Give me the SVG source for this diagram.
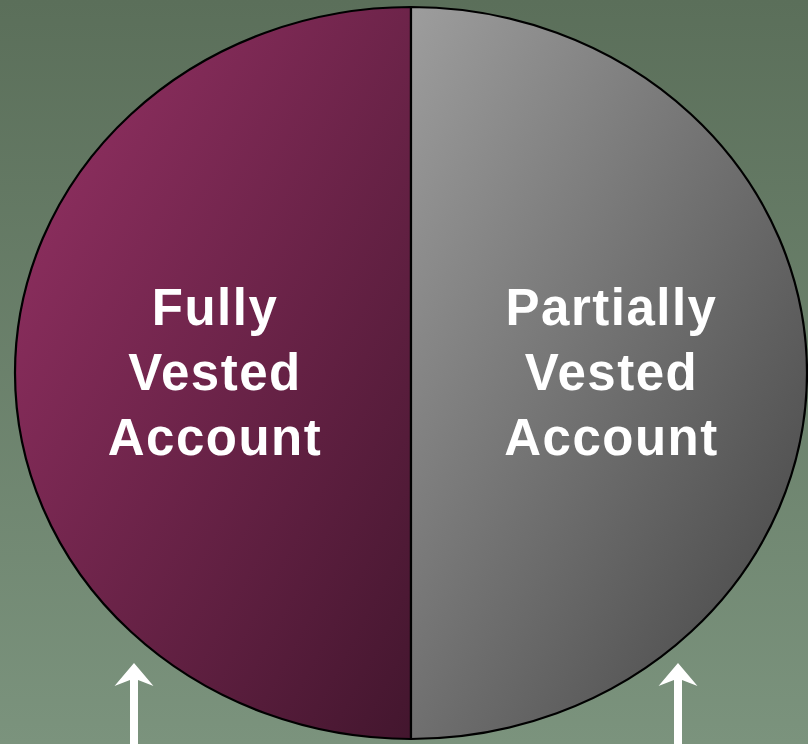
<svg xmlns="http://www.w3.org/2000/svg" width="808" height="744" viewBox="0 0 808 744">
<defs>
<linearGradient id="bg" x1="0" y1="0" x2="0" y2="1">
<stop offset="0" stop-color="#5b6f5a"/>
<stop offset="1" stop-color="#7b937d"/>
</linearGradient>
<linearGradient id="gl" x1="0" y1="0" x2="1" y2="1">
<stop offset="0" stop-color="#983266"/>
<stop offset="1" stop-color="#43162e"/>
</linearGradient>
<linearGradient id="gr" x1="0" y1="0" x2="1" y2="1">
<stop offset="0" stop-color="#9d9d9d"/>
<stop offset="1" stop-color="#424242"/>
</linearGradient>
<style>
.half{stroke:#000;stroke-width:2.2}
.lbl{font-family:"Liberation Sans",Arial,sans-serif;font-weight:bold;font-size:51px;letter-spacing:1.5px;fill:#fff;text-anchor:middle}
.arr{fill:#fff}
</style>
</defs>
<rect width="808" height="744" fill="url(#bg)"/>
<g id="fully">
<path class="half" d="M411,7 A396,366 0 0 0 411,739 Z" fill="url(#gl)"/>
<text class="lbl" x="215" y="325">Fully</text>
<text class="lbl" x="215" y="390">Vested</text>
<text class="lbl" x="215" y="455">Account</text>
</g>
<g id="partially">
<path class="half" d="M411,7 A396,366 0 0 1 411,739 Z" fill="url(#gr)"/>
<text class="lbl" x="611.5" y="325">Partially</text>
<text class="lbl" x="611.5" y="390">Vested</text>
<text class="lbl" x="611.5" y="455">Account</text>
</g>
<g id="connectors">
<path class="arr" d="M134,663 L153.5,686 L138,680 L138,744 L130,744 L130,680 L114.5,686 Z"/>
<path class="arr" d="M678,663 L697.5,686 L682,680 L682,744 L674,744 L674,680 L658.5,686 Z"/>
</g>
</svg>
